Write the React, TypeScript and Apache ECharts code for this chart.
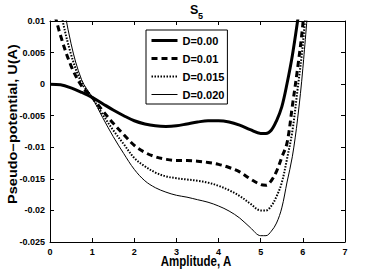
import { useEffect, useRef } from "react";
import * as echarts from "echarts";

// Amplitude samples (x)
const amplitude = [0, 0.25, 0.5, 0.75, 1, 1.25, 1.5, 1.75, 2, 2.25, 2.5, 2.75, 3, 3.25, 3.5, 3.75, 4, 4.25, 4.5, 4.75, 5, 5.125, 5.25, 5.375, 5.5, 5.625, 5.75, 5.875, 6, 6.25];

// Pseudo-potential U(A) for each D
const uD000 = [0, -0.0001, -0.0006, -0.0013, -0.0021, -0.0031, -0.0041, -0.005, -0.0058, -0.0063, -0.0066, -0.0067, -0.0066, -0.0063, -0.006, -0.0058, -0.0058, -0.006, -0.0065, -0.0072, -0.0078, -0.0078, -0.0073, -0.0058, -0.0036, 0.0001, 0.0045, 0.01, 0.016, 0.035];
const uD010 = [0.0139, 0.0077, 0.0029, -0.0003, -0.0021, -0.0042, -0.0062, -0.008, -0.0097, -0.0108, -0.0115, -0.0119, -0.0121, -0.0121, -0.0122, -0.0124, -0.0127, -0.0132, -0.0139, -0.015, -0.0159, -0.016, -0.0153, -0.0138, -0.0116, -0.0093, -0.0035, 0.0025, 0.0095, 0.029];
const uD015 = [0.0209, 0.0116, 0.0047, 0.0002, -0.0021, -0.0048, -0.0073, -0.0095, -0.0117, -0.013, -0.014, -0.0146, -0.0149, -0.0151, -0.0153, -0.0156, -0.0161, -0.0168, -0.0177, -0.0189, -0.02, -0.02, -0.0193, -0.0178, -0.0156, -0.0118, -0.0075, -0.0008, 0.0063, 0.026];
const uD020 = [0.0278, 0.0155, 0.0064, 0.0007, -0.0021, -0.0053, -0.0083, -0.011, -0.0135, -0.0153, -0.0164, -0.0171, -0.0176, -0.0179, -0.0183, -0.0187, -0.0193, -0.0201, -0.0212, -0.0227, -0.024, -0.024, -0.0233, -0.022, -0.0196, -0.0155, -0.0115, -0.0055, 0.0025, 0.023];

const seriesNames = ["D=0.00", "D=0.01", "D=0.015", "D=0.020"];
const seriesValues = [uD000, uD010, uD015, uD020];

const SANS = "'Liberation Sans', Arial, Helvetica, sans-serif";

const lineStyles: any[] = [
  { color: "#000", width: 3, type: "solid" },
  { color: "#000", width: 3, type: [6, 4] },
  { color: "#000", width: 2, type: [1.5, 1.5] },
  { color: "#000", width: 1, type: "solid" },
];

export default function App() {
  const ref = useRef<HTMLDivElement>(null);

  useEffect(() => {
    if (!ref.current) return;
    const chart = echarts.init(ref.current, undefined, { renderer: "svg" });

    const axisCommon = {
      axisLine: { show: true, onZero: false, lineStyle: { color: "#000", width: 1 } },
      axisTick: { show: true, inside: true, length: 4, lineStyle: { color: "#000", width: 1 } },
      splitLine: { show: false },
    };
    const labelStyle = { fontFamily: SANS, fontWeight: "bold" as const, fontSize: 9, color: "#000" };

    const option: any = {
      animation: false,
      backgroundColor: "#fff",
      grid: { left: 50, right: 37, top: 21, bottom: 31, containLabel: false },
      xAxis: [
        {
          type: "value",
          min: 0,
          max: 7,
          interval: 1,
          position: "bottom",
          ...axisCommon,
          axisLabel: { ...labelStyle, margin: 5 },
        },
        {
          type: "value",
          min: 0,
          max: 7,
          interval: 1,
          position: "top",
          ...axisCommon,
          axisLabel: { show: false },
        },
      ],
      yAxis: [
        {
          type: "value",
          min: -0.025,
          max: 0.01,
          interval: 0.005,
          position: "left",
          ...axisCommon,
          axisLabel: { ...labelStyle, margin: 5 },
        },
        {
          type: "value",
          min: -0.025,
          max: 0.01,
          interval: 0.005,
          position: "right",
          ...axisCommon,
          axisLabel: { show: false },
        },
      ],
      legend: {
        data: seriesNames.map((name, i) => ({
          name,
          lineStyle: { ...lineStyles[i] },
          itemStyle: { color: "rgba(0,0,0,0)", borderWidth: 0, opacity: 0 },
        })),
        orient: "vertical",
        left: 146,
        top: 30,
        itemWidth: 26,
        itemHeight: 10,
        itemGap: 5,
        padding: [4, 3, 3, 4],
        borderColor: "#000",
        borderWidth: 1,
        borderRadius: 0,
        backgroundColor: "#fff",
        itemStyle: { color: "rgba(0,0,0,0)", borderWidth: 0, opacity: 0 },
        textStyle: { fontFamily: SANS, fontWeight: "bold", fontSize: 11, lineHeight: 13, color: "#000" },
      },
      graphic: [
        {
          type: "text",
          x: 190,
          y: 3,
          style: { text: "S", font: `bold 12.5px ${SANS}`, fill: "#000" },
        },
        {
          type: "text",
          x: 198,
          y: 11,
          style: { text: "5", font: `bold 9px ${SANS}`, fill: "#000" },
        },
        {
          type: "text",
          x: 196,
          y: 261,
          scaleX: 0.82,
          style: {
            text: "Amplitude, A",
            font: `bold 14px ${SANS}`,
            fill: "#000",
            align: "center",
            verticalAlign: "middle",
            textAlign: "center",
            textVerticalAlign: "middle",
          },
        },
        {
          type: "text",
          x: 13,
          y: 124,
          rotation: Math.PI / 2,
          scaleY: 0.82,
          style: {
            text: "Pseudo\u2212potential, U(A)",
            font: `bold 14.5px ${SANS}`,
            fill: "#000",
            align: "center",
            verticalAlign: "middle",
            textAlign: "center",
            textVerticalAlign: "middle",
          },
        },
      ],
      series: seriesNames.map((name, i) => ({
        name,
        type: "line",
        xAxisIndex: 0,
        yAxisIndex: 0,
        data: amplitude.map((a, j) => [a, seriesValues[i][j]]),
        symbol: "none",
        showSymbol: false,
        smooth: 0.35,
        clip: true,
        lineStyle: lineStyles[i],
        itemStyle: { color: "#000" },
        z: 10 - i,
      })),
    };

    chart.setOption(option);
    return () => chart.dispose();
  }, []);

  return (
    <div
      ref={ref}
      style={{ position: "absolute", left: 0, top: 0, width: 382, height: 273, background: "#fff" }}
    />
  );
}
